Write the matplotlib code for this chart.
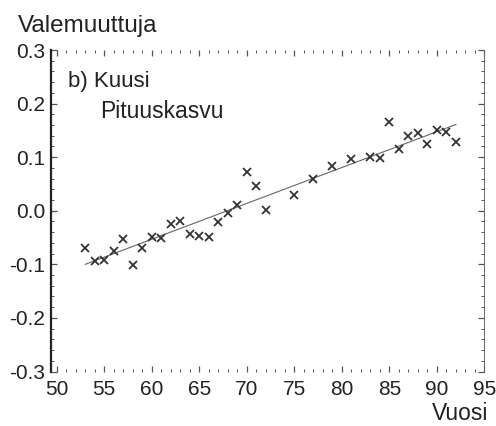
# kuusi pituuskasvu - valemuuttuja vs vuosi
import matplotlib
matplotlib.use('Agg')
import matplotlib.pyplot as plt
from matplotlib.ticker import MultipleLocator

plt.rcParams['font.family'] = ['Liberation Sans', 'DejaVu Sans']

vuosi = [53, 54, 55, 56, 57, 58, 59, 60, 61, 62, 63, 64, 65, 66, 67, 68, 69,
         70, 71, 72, 75, 77, 79, 81, 83, 84, 85, 86, 87, 88, 89, 90, 91, 92]
arvo = [-0.069, -0.094, -0.091, -0.075, -0.053, -0.101, -0.069, -0.049,
        -0.050, -0.024, -0.020, -0.043, -0.048, -0.049, -0.021, -0.005,
        0.010, 0.072, 0.046, 0.001, 0.030, 0.059, 0.084, 0.096, 0.100,
        0.099, 0.166, 0.116, 0.139, 0.145, 0.125, 0.150, 0.147, 0.128]

# regression line end points
sovite_x = [53, 92]
sovite_y = [-0.100, 0.161]

ink = '#222222'

fig = plt.figure(figsize=(4.96, 4.26), dpi=100)
ax = fig.add_axes([0.1028, 0.1279, 0.874, 0.7547])

ax.plot(sovite_x, sovite_y, color='#666666', lw=0.8)
ax.plot(vuosi, arvo, 'x', color='#333333', ms=5.5, mew=1.3)

ax.set_xlim(49.4, 95)
ax.set_ylim(-0.3, 0.3)
ax.xaxis.set_major_locator(MultipleLocator(5))
ax.xaxis.set_minor_locator(MultipleLocator(1))
ax.yaxis.set_major_locator(MultipleLocator(0.1))
ax.yaxis.set_minor_locator(MultipleLocator(0.02))
ax.set_yticklabels(['%.1f' % v for v in ax.get_yticks()])

ax.spines['top'].set_visible(False)
ax.spines['bottom'].set_visible(False)
ax.spines['left'].set_linewidth(1.6)
ax.spines['left'].set_color(ink)
ax.spines['right'].set_linewidth(0.7)
ax.spines['right'].set_color('#666666')

ax.tick_params(which='both', direction='in', top=True, right=True,
               color='#555555', labelsize=15, labelcolor=ink)
ax.tick_params(which='major', length=4, width=0.9)
ax.tick_params(which='minor', length=2.2, width=0.7)
ax.tick_params(axis='x', pad=6)
ax.tick_params(axis='y', pad=4)

ax.text(0.039, 0.885, 'b) Kuusi', transform=ax.transAxes, fontsize=16,
        color=ink, va='baseline')
ax.text(0.113, 0.788, 'Pituuskasvu', transform=ax.transAxes, fontsize=16.5,
        color=ink, va='baseline')

fig.text(0.036, 0.925, 'Valemuuttuja', fontsize=17.5, color=ink, va='baseline')
fig.text(0.984, 0.014, 'Vuosi', fontsize=16.5, color=ink, va='baseline',
         ha='right')

fig.savefig('out.png', dpi=100)
